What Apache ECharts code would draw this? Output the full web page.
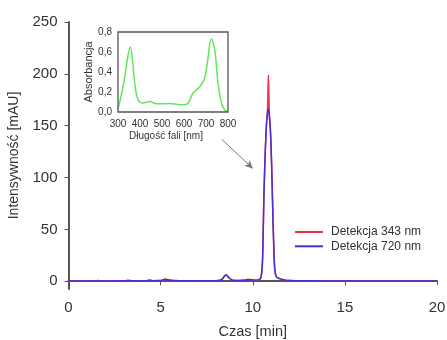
<!DOCTYPE html>
<html>
<head>
<meta charset="utf-8">
<script src="https://cdn.jsdelivr.net/npm/echarts@6/dist/echarts.min.js"></script>
<style>html,body{margin:0;padding:0;background:#fff}#c{width:447px;height:340px}</style>
</head>
<body>
<div id="c"></div>
<script>
// Main chromatogram: time [min] and intensity [mAU]
const seriesNames = ['Detekcja 343 nm', 'Detekcja 720 nm'];
const time720 = [0, 1.0, 1.5, 1.6, 1.7, 2.5, 3.1, 3.25, 3.4, 4.2, 4.4, 4.6, 5.0, 5.25, 5.5, 6.0, 7.0, 8.0, 8.3, 8.45, 8.55, 8.7, 8.9, 9.2, 9.5, 9.75, 10.0, 10.2, 10.35, 10.45, 10.53, 10.61, 10.68, 10.74, 10.80, 10.85, 10.90, 10.96, 11.02, 11.07, 11.16, 11.22, 11.30, 11.45, 11.65, 12.0, 13.0, 15.0, 17.0, 20.0];
const int720 = [0.2, 0.2, 0.4, 0.7, 0.3, 0.3, 0.4, 0.8, 0.4, 0.3, 0.9, 0.5, 0.6, 1.9, 0.9, 0.5, 0.4, 0.5, 1.5, 4.5, 6.3, 3.5, 1.0, 0.6, 1.0, 1.6, 1.2, 0.9, 1.5, 4.0, 20, 85, 125, 150, 163, 166, 160, 145, 115, 80, 22, 8, 4, 2.5, 1.5, 0.6, 0.4, 0.3, 0.3, 0.3];
// 343 nm trace differs from the 720 nm trace only at the peak top
const time343 = [10.80, 10.85, 10.90];
const int343 = [164, 199, 161];
const yTicks = [0, 50, 100, 150, 200, 250];
// Annotation arrow (data coords): from inset to peak
const arrowFrom = [8.32, 136.8];
const arrowTo = [10.0, 108.8];

// Inset spectrum: wavelength [nm] and absorbance
const wavelength = [300, 315, 330, 345, 356, 366, 376, 391, 414, 444, 474, 535, 595, 618, 641, 671, 694, 709, 724, 739, 754, 770, 785, 800];
const absorbance = [0.03, 0.17, 0.34, 0.56, 0.65, 0.52, 0.29, 0.12, 0.09, 0.105, 0.082, 0.085, 0.072, 0.085, 0.19, 0.25, 0.34, 0.54, 0.73, 0.635, 0.30, 0.09, 0.02, 0.0];

const FONT = 'Liberation Sans, Arial, sans-serif';
const TXT = '#333';
const pair = (xs, ys) => xs.map((x, i) => [x, ys[i]]);

const red = pair(time720, int720).map(p => {
  const k = time343.indexOf(p[0]);
  return k >= 0 ? [p[0], int343[k]] : p;
});

const chart = echarts.init(document.getElementById('c'));
chart.setOption({
  animation: false,
  textStyle: { fontFamily: FONT, color: TXT },
  grid: [
    { left: 68.5, right: 10, top: 22, bottom: 51, outerBoundsMode: 'none', containLabel: false },
    { left: 118, top: 32, width: 110, height: 80, show: true, borderColor: '#555', borderWidth: 1.3, backgroundColor: 'transparent', z: 5, outerBoundsMode: 'none', containLabel: false }
  ],
  legend: {
    orient: 'vertical', left: 295, top: 226, padding: 0, itemWidth: 28, itemHeight: 2, itemGap: 2.3, icon: 'rect',
    data: seriesNames,
    textStyle: { fontFamily: FONT, fontSize: 12, color: TXT, padding: [0, 0, 0, 3] }
  },
  xAxis: [
    { type: 'value', gridIndex: 0, min: 0, max: 20, interval: 5,
      axisLine: { lineStyle: { color: '#555', width: 2 } },
      axisTick: { show: true, length: 4, lineStyle: { color: '#555', width: 1 } },
      splitLine: { show: false },
      axisLabel: { fontSize: 15, color: TXT, margin: 11, fontFamily: FONT },
      name: 'Czas [min]', nameLocation: 'middle', nameGap: 35,
      nameTextStyle: { fontSize: 14.5, color: TXT, fontFamily: FONT } },
    { type: 'value', gridIndex: 1, min: 300, max: 800, interval: 100,
      axisLine: { show: false }, axisTick: { show: false }, splitLine: { show: false },
      axisLabel: { fontSize: 10, color: TXT, margin: 7, fontFamily: FONT },
      name: 'Długość fali [nm]', nameLocation: 'middle', nameGap: 19,
      nameTextStyle: { fontSize: 10, color: TXT, fontFamily: FONT, padding: [0, 14, 0, 0] } }
  ],
  yAxis: [
    { type: 'value', gridIndex: 0, min: -7.5, max: 250,
      axisLine: { show: true, lineStyle: { color: '#555', width: 2 } },
      axisTick: { show: true, length: 4, customValues: yTicks, lineStyle: { color: '#555', width: 1 } },
      splitLine: { show: false },
      axisLabel: { fontSize: 15, color: TXT, margin: 11, fontFamily: FONT, customValues: yTicks },
      name: 'Intensywność [mAU]', nameLocation: 'middle', nameGap: 40,
      nameTextStyle: { fontSize: 14, color: TXT, fontFamily: FONT } },
    { type: 'value', gridIndex: 1, min: 0, max: 0.8, interval: 0.2,
      axisLine: { show: false }, axisTick: { show: false }, splitLine: { show: false },
      axisLabel: { fontSize: 10, color: TXT, margin: 6, fontFamily: FONT,
        formatter: v => v.toFixed(1).replace('.', ',') },
      name: 'Absorbancja', nameLocation: 'middle', nameGap: 20,
      nameTextStyle: { fontSize: 11, color: TXT, fontFamily: FONT } }
  ],
  series: [
    { name: seriesNames[0], type: 'line', xAxisIndex: 0, yAxisIndex: 0, data: red,
      symbol: 'none', smooth: 0.3, lineStyle: { color: '#ee3344', width: 1.5 }, itemStyle: { color: '#ee3344' } },
    { name: seriesNames[1], type: 'line', xAxisIndex: 0, yAxisIndex: 0, data: pair(time720, int720),
      symbol: 'none', smooth: 0.3, lineStyle: { color: '#4a2fd8', width: 1.5 }, itemStyle: { color: '#4a2fd8' },
      markLine: { silent: true, symbol: ['none', 'arrow'], symbolSize: [6, 8],
        label: { show: false }, lineStyle: { color: '#777', width: 1, type: 'solid' },
        data: [[{ coord: arrowFrom }, { coord: arrowTo }]] } },
    { name: 'spectrum', type: 'line', xAxisIndex: 1, yAxisIndex: 1, data: pair(wavelength, absorbance),
      symbol: 'none', smooth: 0.35, lineStyle: { color: '#5ee85a', width: 1.5 } }
  ]
});
</script>
</body>
</html>
